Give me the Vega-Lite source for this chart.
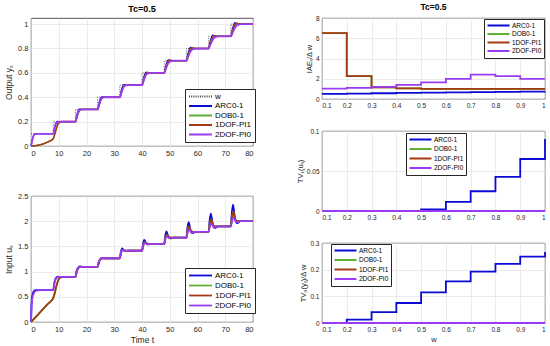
{
  "$schema": "https://vega.github.io/schema/vega-lite/v6.json",
  "padding": {"left": 4, "top": 2, "right": 4, "bottom": 2},
  "spacing": 38,
  "config": {
    "font": "Liberation Sans",
    "view": {"stroke": "#262626", "strokeWidth": 0.8},
    "axis": {"labelColor": "#262626", "titleColor": "#262626", "titleFontWeight": "normal", "gridColor": "#e3e3e3", "gridWidth": 0.7, "domain": false, "ticks": false, "labelPadding": 3, "format": "~f"},
    "title": {"fontWeight": "bold", "color": "#000000", "offset": 4},
    "line": {"strokeCap": "butt"}
  },
  "datasets": {
    "ys": [
      {"s":"w","t":0,"v":0.1},{"s":"w","t":8,"v":0.2},{"s":"w","t":16,"v":0.3},{"s":"w","t":24,"v":0.4},{"s":"w","t":32,"v":0.5},{"s":"w","t":40,"v":0.6},{"s":"w","t":48,"v":0.7},{"s":"w","t":56,"v":0.8},{"s":"w","t":64,"v":0.9},{"s":"w","t":72,"v":1.0},{"s":"w","t":80,"v":1.0},

      {"s":"ARC0-1","t":0,"v":0},{"s":"ARC0-1","t":0.4,"v":0.045},{"s":"ARC0-1","t":0.9,"v":0.085},{"s":"ARC0-1","t":1.5,"v":0.1},{"s":"ARC0-1","t":2.6,"v":0.1},
      {"s":"ARC0-1","t":8,"v":0.1},{"s":"ARC0-1","t":8.4,"v":0.145},{"s":"ARC0-1","t":8.9,"v":0.185},{"s":"ARC0-1","t":9.5,"v":0.202},{"s":"ARC0-1","t":10.6,"v":0.2},
      {"s":"ARC0-1","t":16,"v":0.2},{"s":"ARC0-1","t":16.4,"v":0.245},{"s":"ARC0-1","t":16.9,"v":0.285},{"s":"ARC0-1","t":17.5,"v":0.303},{"s":"ARC0-1","t":18.6,"v":0.3},
      {"s":"ARC0-1","t":24,"v":0.3},{"s":"ARC0-1","t":24.4,"v":0.345},{"s":"ARC0-1","t":24.9,"v":0.385},{"s":"ARC0-1","t":25.5,"v":0.404},{"s":"ARC0-1","t":26.6,"v":0.4},
      {"s":"ARC0-1","t":32,"v":0.4},{"s":"ARC0-1","t":32.4,"v":0.445},{"s":"ARC0-1","t":32.9,"v":0.485},{"s":"ARC0-1","t":33.5,"v":0.505},{"s":"ARC0-1","t":34.6,"v":0.5},
      {"s":"ARC0-1","t":40,"v":0.5},{"s":"ARC0-1","t":40.4,"v":0.545},{"s":"ARC0-1","t":40.9,"v":0.585},{"s":"ARC0-1","t":41.5,"v":0.606},{"s":"ARC0-1","t":42.6,"v":0.6},
      {"s":"ARC0-1","t":48,"v":0.6},{"s":"ARC0-1","t":48.4,"v":0.645},{"s":"ARC0-1","t":48.9,"v":0.685},{"s":"ARC0-1","t":49.5,"v":0.708},{"s":"ARC0-1","t":50.6,"v":0.7},
      {"s":"ARC0-1","t":56,"v":0.7},{"s":"ARC0-1","t":56.4,"v":0.745},{"s":"ARC0-1","t":56.9,"v":0.785},{"s":"ARC0-1","t":57.5,"v":0.809},{"s":"ARC0-1","t":58.6,"v":0.8},
      {"s":"ARC0-1","t":64,"v":0.8},{"s":"ARC0-1","t":64.4,"v":0.845},{"s":"ARC0-1","t":64.9,"v":0.885},{"s":"ARC0-1","t":65.5,"v":0.91},{"s":"ARC0-1","t":66.6,"v":0.9},
      {"s":"ARC0-1","t":72,"v":0.9},{"s":"ARC0-1","t":72.4,"v":0.945},{"s":"ARC0-1","t":72.9,"v":0.985},{"s":"ARC0-1","t":73.5,"v":1.012},{"s":"ARC0-1","t":74.6,"v":1.0},
      {"s":"ARC0-1","t":80,"v":1.0},

      {"s":"DOB0-1","t":0,"v":0},{"s":"DOB0-1","t":2,"v":0.004},{"s":"DOB0-1","t":4,"v":0.015},{"s":"DOB0-1","t":6,"v":0.033},{"s":"DOB0-1","t":8,"v":0.06},{"s":"DOB0-1","t":8.6,"v":0.1},{"s":"DOB0-1","t":9.3,"v":0.155},{"s":"DOB0-1","t":10,"v":0.19},{"s":"DOB0-1","t":11,"v":0.2},
      {"s":"DOB0-1","t":16,"v":0.2},{"s":"DOB0-1","t":16.6,"v":0.24},{"s":"DOB0-1","t":17.3,"v":0.285},{"s":"DOB0-1","t":18.2,"v":0.3},
      {"s":"DOB0-1","t":24,"v":0.3},{"s":"DOB0-1","t":24.6,"v":0.34},{"s":"DOB0-1","t":25.3,"v":0.385},{"s":"DOB0-1","t":26.2,"v":0.4},
      {"s":"DOB0-1","t":32,"v":0.4},{"s":"DOB0-1","t":32.6,"v":0.44},{"s":"DOB0-1","t":33.3,"v":0.485},{"s":"DOB0-1","t":34.2,"v":0.5},
      {"s":"DOB0-1","t":40,"v":0.5},{"s":"DOB0-1","t":40.6,"v":0.54},{"s":"DOB0-1","t":41.3,"v":0.585},{"s":"DOB0-1","t":42.2,"v":0.602},{"s":"DOB0-1","t":43.2,"v":0.6},
      {"s":"DOB0-1","t":48,"v":0.6},{"s":"DOB0-1","t":48.6,"v":0.64},{"s":"DOB0-1","t":49.3,"v":0.685},{"s":"DOB0-1","t":50.2,"v":0.703},{"s":"DOB0-1","t":51.2,"v":0.7},
      {"s":"DOB0-1","t":56,"v":0.7},{"s":"DOB0-1","t":56.6,"v":0.74},{"s":"DOB0-1","t":57.3,"v":0.785},{"s":"DOB0-1","t":58.2,"v":0.804},{"s":"DOB0-1","t":59.2,"v":0.8},
      {"s":"DOB0-1","t":64,"v":0.8},{"s":"DOB0-1","t":64.6,"v":0.84},{"s":"DOB0-1","t":65.3,"v":0.885},{"s":"DOB0-1","t":66.2,"v":0.905},{"s":"DOB0-1","t":67.2,"v":0.9},
      {"s":"DOB0-1","t":72,"v":0.9},{"s":"DOB0-1","t":72.6,"v":0.94},{"s":"DOB0-1","t":73.3,"v":0.985},{"s":"DOB0-1","t":74.2,"v":1.006},{"s":"DOB0-1","t":75.2,"v":1.0},
      {"s":"DOB0-1","t":80,"v":1.0},

      {"s":"1DOF-PI1","t":0,"v":0},{"s":"1DOF-PI1","t":2,"v":0.004},{"s":"1DOF-PI1","t":4,"v":0.015},{"s":"1DOF-PI1","t":6,"v":0.033},{"s":"1DOF-PI1","t":8,"v":0.06},{"s":"1DOF-PI1","t":8.6,"v":0.1},{"s":"1DOF-PI1","t":9.3,"v":0.155},{"s":"1DOF-PI1","t":10,"v":0.19},{"s":"1DOF-PI1","t":11,"v":0.2},
      {"s":"1DOF-PI1","t":16,"v":0.2},{"s":"1DOF-PI1","t":16.6,"v":0.24},{"s":"1DOF-PI1","t":17.3,"v":0.285},{"s":"1DOF-PI1","t":18.2,"v":0.3},
      {"s":"1DOF-PI1","t":24,"v":0.3},{"s":"1DOF-PI1","t":24.6,"v":0.34},{"s":"1DOF-PI1","t":25.3,"v":0.385},{"s":"1DOF-PI1","t":26.2,"v":0.4},
      {"s":"1DOF-PI1","t":32,"v":0.4},{"s":"1DOF-PI1","t":32.6,"v":0.44},{"s":"1DOF-PI1","t":33.3,"v":0.485},{"s":"1DOF-PI1","t":34.2,"v":0.5},
      {"s":"1DOF-PI1","t":40,"v":0.5},{"s":"1DOF-PI1","t":40.6,"v":0.54},{"s":"1DOF-PI1","t":41.3,"v":0.585},{"s":"1DOF-PI1","t":42.2,"v":0.602},{"s":"1DOF-PI1","t":43.2,"v":0.6},
      {"s":"1DOF-PI1","t":48,"v":0.6},{"s":"1DOF-PI1","t":48.6,"v":0.64},{"s":"1DOF-PI1","t":49.3,"v":0.685},{"s":"1DOF-PI1","t":50.2,"v":0.703},{"s":"1DOF-PI1","t":51.2,"v":0.7},
      {"s":"1DOF-PI1","t":56,"v":0.7},{"s":"1DOF-PI1","t":56.6,"v":0.74},{"s":"1DOF-PI1","t":57.3,"v":0.785},{"s":"1DOF-PI1","t":58.2,"v":0.804},{"s":"1DOF-PI1","t":59.2,"v":0.8},
      {"s":"1DOF-PI1","t":64,"v":0.8},{"s":"1DOF-PI1","t":64.6,"v":0.84},{"s":"1DOF-PI1","t":65.3,"v":0.885},{"s":"1DOF-PI1","t":66.2,"v":0.905},{"s":"1DOF-PI1","t":67.2,"v":0.9},
      {"s":"1DOF-PI1","t":72,"v":0.9},{"s":"1DOF-PI1","t":72.6,"v":0.94},{"s":"1DOF-PI1","t":73.3,"v":0.985},{"s":"1DOF-PI1","t":74.2,"v":1.006},{"s":"1DOF-PI1","t":75.2,"v":1.0},
      {"s":"1DOF-PI1","t":80,"v":1.0},

      {"s":"2DOF-PI0","t":0,"v":0},{"s":"2DOF-PI0","t":0.36,"v":0.035},{"s":"2DOF-PI0","t":0.72,"v":0.07},{"s":"2DOF-PI0","t":1.2,"v":0.093},{"s":"2DOF-PI0","t":2.04,"v":0.1},
      {"s":"2DOF-PI0","t":8,"v":0.1},{"s":"2DOF-PI0","t":8.41,"v":0.135},{"s":"2DOF-PI0","t":8.81,"v":0.17},{"s":"2DOF-PI0","t":9.35,"v":0.193},{"s":"2DOF-PI0","t":10.3,"v":0.2},
      {"s":"2DOF-PI0","t":16,"v":0.2},{"s":"2DOF-PI0","t":16.45,"v":0.235},{"s":"2DOF-PI0","t":16.9,"v":0.27},{"s":"2DOF-PI0","t":17.5,"v":0.293},{"s":"2DOF-PI0","t":18.55,"v":0.3},
      {"s":"2DOF-PI0","t":24,"v":0.3},{"s":"2DOF-PI0","t":24.5,"v":0.335},{"s":"2DOF-PI0","t":24.99,"v":0.37},{"s":"2DOF-PI0","t":25.65,"v":0.393},{"s":"2DOF-PI0","t":26.81,"v":0.4},
      {"s":"2DOF-PI0","t":32,"v":0.4},{"s":"2DOF-PI0","t":32.54,"v":0.435},{"s":"2DOF-PI0","t":33.08,"v":0.47},{"s":"2DOF-PI0","t":33.8,"v":0.493},{"s":"2DOF-PI0","t":35.06,"v":0.5},
      {"s":"2DOF-PI0","t":40,"v":0.5},{"s":"2DOF-PI0","t":40.59,"v":0.535},{"s":"2DOF-PI0","t":41.17,"v":0.57},{"s":"2DOF-PI0","t":41.95,"v":0.593},{"s":"2DOF-PI0","t":43.32,"v":0.6},
      {"s":"2DOF-PI0","t":48,"v":0.6},{"s":"2DOF-PI0","t":48.63,"v":0.635},{"s":"2DOF-PI0","t":49.26,"v":0.67},{"s":"2DOF-PI0","t":50.1,"v":0.693},{"s":"2DOF-PI0","t":51.57,"v":0.7},
      {"s":"2DOF-PI0","t":56,"v":0.7},{"s":"2DOF-PI0","t":56.68,"v":0.735},{"s":"2DOF-PI0","t":57.35,"v":0.77},{"s":"2DOF-PI0","t":58.25,"v":0.793},{"s":"2DOF-PI0","t":59.83,"v":0.8},
      {"s":"2DOF-PI0","t":64,"v":0.8},{"s":"2DOF-PI0","t":64.72,"v":0.835},{"s":"2DOF-PI0","t":65.44,"v":0.87},{"s":"2DOF-PI0","t":66.4,"v":0.893},{"s":"2DOF-PI0","t":68.08,"v":0.9},
      {"s":"2DOF-PI0","t":72,"v":0.9},{"s":"2DOF-PI0","t":72.77,"v":0.935},{"s":"2DOF-PI0","t":73.53,"v":0.97},{"s":"2DOF-PI0","t":74.55,"v":0.993},{"s":"2DOF-PI0","t":76.34,"v":1.0},
      {"s":"2DOF-PI0","t":80,"v":1.0}
    ],
    "us": [
      {"s":"ARC0-1","t":0,"v":0},{"s":"ARC0-1","t":0.15,"v":0.3},{"s":"ARC0-1","t":0.4,"v":0.5},{"s":"ARC0-1","t":0.9,"v":0.6},{"s":"ARC0-1","t":1.6,"v":0.63},{"s":"ARC0-1","t":3,"v":0.632},
      {"s":"ARC0-1","t":8,"v":0.632},{"s":"ARC0-1","t":8.4,"v":0.776},{"s":"ARC0-1","t":8.9,"v":0.863},{"s":"ARC0-1","t":9.6,"v":0.899},{"s":"ARC0-1","t":11,"v":0.894},
      {"s":"ARC0-1","t":16,"v":0.894},{"s":"ARC0-1","t":16.4,"v":1.005},{"s":"ARC0-1","t":16.9,"v":1.071},{"s":"ARC0-1","t":17.6,"v":1.102},{"s":"ARC0-1","t":19,"v":1.095},
      {"s":"ARC0-1","t":24,"v":1.095},{"s":"ARC0-1","t":24.4,"v":1.189},{"s":"ARC0-1","t":24.9,"v":1.245},{"s":"ARC0-1","t":25.6,"v":1.273},{"s":"ARC0-1","t":27,"v":1.265},
      {"s":"ARC0-1","t":32,"v":1.265},{"s":"ARC0-1","t":32.35,"v":1.383},{"s":"ARC0-1","t":32.8,"v":1.46},{"s":"ARC0-1","t":33.4,"v":1.428},{"s":"ARC0-1","t":34.2,"v":1.409},{"s":"ARC0-1","t":35.5,"v":1.414},
      {"s":"ARC0-1","t":40,"v":1.414},{"s":"ARC0-1","t":40.35,"v":1.544},{"s":"ARC0-1","t":40.8,"v":1.63},{"s":"ARC0-1","t":41.4,"v":1.573},{"s":"ARC0-1","t":42.2,"v":1.539},{"s":"ARC0-1","t":43.5,"v":1.549},
      {"s":"ARC0-1","t":48,"v":1.549},{"s":"ARC0-1","t":48.35,"v":1.699},{"s":"ARC0-1","t":48.8,"v":1.8},{"s":"ARC0-1","t":49.4,"v":1.711},{"s":"ARC0-1","t":50.2,"v":1.658},{"s":"ARC0-1","t":51.5,"v":1.673},
      {"s":"ARC0-1","t":56,"v":1.673},{"s":"ARC0-1","t":56.35,"v":1.856},{"s":"ARC0-1","t":56.8,"v":1.98},{"s":"ARC0-1","t":57.4,"v":1.846},{"s":"ARC0-1","t":58.2,"v":1.764},{"s":"ARC0-1","t":59.5,"v":1.789},
      {"s":"ARC0-1","t":64,"v":1.789},{"s":"ARC0-1","t":64.35,"v":2.006},{"s":"ARC0-1","t":64.8,"v":2.15},{"s":"ARC0-1","t":65.4,"v":1.973},{"s":"ARC0-1","t":66.2,"v":1.867},{"s":"ARC0-1","t":67.5,"v":1.897},
      {"s":"ARC0-1","t":72,"v":1.897},{"s":"ARC0-1","t":72.35,"v":2.157},{"s":"ARC0-1","t":72.8,"v":2.33},{"s":"ARC0-1","t":73.4,"v":2.099},{"s":"ARC0-1","t":74.2,"v":1.96},{"s":"ARC0-1","t":75.5,"v":2.0},
      {"s":"ARC0-1","t":80,"v":2.0},

      {"s":"DOB0-1","t":0,"v":0},{"s":"DOB0-1","t":2,"v":0.115},{"s":"DOB0-1","t":4,"v":0.235},{"s":"DOB0-1","t":6,"v":0.355},{"s":"DOB0-1","t":8,"v":0.475},{"s":"DOB0-1","t":8.5,"v":0.56},{"s":"DOB0-1","t":9,"v":0.68},{"s":"DOB0-1","t":9.5,"v":0.78},{"s":"DOB0-1","t":10,"v":0.85},{"s":"DOB0-1","t":10.7,"v":0.885},{"s":"DOB0-1","t":12,"v":0.894},
      {"s":"DOB0-1","t":16,"v":0.894},{"s":"DOB0-1","t":16.5,"v":1.0},{"s":"DOB0-1","t":17,"v":1.065},{"s":"DOB0-1","t":17.7,"v":1.095},
      {"s":"DOB0-1","t":24,"v":1.095},{"s":"DOB0-1","t":24.5,"v":1.19},{"s":"DOB0-1","t":25,"v":1.245},{"s":"DOB0-1","t":25.7,"v":1.265},
      {"s":"DOB0-1","t":32,"v":1.265},{"s":"DOB0-1","t":32.45,"v":1.37},{"s":"DOB0-1","t":32.9,"v":1.43},{"s":"DOB0-1","t":33.6,"v":1.42},{"s":"DOB0-1","t":34.5,"v":1.414},
      {"s":"DOB0-1","t":40,"v":1.414},{"s":"DOB0-1","t":40.45,"v":1.52},{"s":"DOB0-1","t":40.9,"v":1.58},{"s":"DOB0-1","t":41.6,"v":1.56},{"s":"DOB0-1","t":42.5,"v":1.549},
      {"s":"DOB0-1","t":48,"v":1.549},{"s":"DOB0-1","t":48.45,"v":1.67},{"s":"DOB0-1","t":48.9,"v":1.73},{"s":"DOB0-1","t":49.6,"v":1.69},{"s":"DOB0-1","t":50.5,"v":1.673},
      {"s":"DOB0-1","t":56,"v":1.673},{"s":"DOB0-1","t":56.45,"v":1.81},{"s":"DOB0-1","t":56.9,"v":1.89},{"s":"DOB0-1","t":57.6,"v":1.81},{"s":"DOB0-1","t":58.5,"v":1.789},
      {"s":"DOB0-1","t":64,"v":1.789},{"s":"DOB0-1","t":64.45,"v":1.95},{"s":"DOB0-1","t":64.9,"v":2.03},{"s":"DOB0-1","t":65.6,"v":1.92},{"s":"DOB0-1","t":66.5,"v":1.897},
      {"s":"DOB0-1","t":72,"v":1.897},{"s":"DOB0-1","t":72.45,"v":2.09},{"s":"DOB0-1","t":72.9,"v":2.19},{"s":"DOB0-1","t":73.6,"v":2.03},{"s":"DOB0-1","t":74.5,"v":2.0},
      {"s":"DOB0-1","t":80,"v":2.0},

      {"s":"1DOF-PI1","t":0,"v":0},{"s":"1DOF-PI1","t":2,"v":0.115},{"s":"1DOF-PI1","t":4,"v":0.235},{"s":"1DOF-PI1","t":6,"v":0.355},{"s":"1DOF-PI1","t":8,"v":0.475},{"s":"1DOF-PI1","t":8.5,"v":0.56},{"s":"1DOF-PI1","t":9,"v":0.68},{"s":"1DOF-PI1","t":9.5,"v":0.78},{"s":"1DOF-PI1","t":10,"v":0.85},{"s":"1DOF-PI1","t":10.7,"v":0.885},{"s":"1DOF-PI1","t":12,"v":0.894},
      {"s":"1DOF-PI1","t":16,"v":0.894},{"s":"1DOF-PI1","t":16.5,"v":1.0},{"s":"1DOF-PI1","t":17,"v":1.065},{"s":"1DOF-PI1","t":17.7,"v":1.095},
      {"s":"1DOF-PI1","t":24,"v":1.095},{"s":"1DOF-PI1","t":24.5,"v":1.19},{"s":"1DOF-PI1","t":25,"v":1.245},{"s":"1DOF-PI1","t":25.7,"v":1.265},
      {"s":"1DOF-PI1","t":32,"v":1.265},{"s":"1DOF-PI1","t":32.45,"v":1.37},{"s":"1DOF-PI1","t":32.9,"v":1.43},{"s":"1DOF-PI1","t":33.6,"v":1.42},{"s":"1DOF-PI1","t":34.5,"v":1.414},
      {"s":"1DOF-PI1","t":40,"v":1.414},{"s":"1DOF-PI1","t":40.45,"v":1.52},{"s":"1DOF-PI1","t":40.9,"v":1.58},{"s":"1DOF-PI1","t":41.6,"v":1.56},{"s":"1DOF-PI1","t":42.5,"v":1.549},
      {"s":"1DOF-PI1","t":48,"v":1.549},{"s":"1DOF-PI1","t":48.45,"v":1.67},{"s":"1DOF-PI1","t":48.9,"v":1.73},{"s":"1DOF-PI1","t":49.6,"v":1.69},{"s":"1DOF-PI1","t":50.5,"v":1.673},
      {"s":"1DOF-PI1","t":56,"v":1.673},{"s":"1DOF-PI1","t":56.45,"v":1.81},{"s":"1DOF-PI1","t":56.9,"v":1.89},{"s":"1DOF-PI1","t":57.6,"v":1.81},{"s":"1DOF-PI1","t":58.5,"v":1.789},
      {"s":"1DOF-PI1","t":64,"v":1.789},{"s":"1DOF-PI1","t":64.45,"v":1.95},{"s":"1DOF-PI1","t":64.9,"v":2.03},{"s":"1DOF-PI1","t":65.6,"v":1.92},{"s":"1DOF-PI1","t":66.5,"v":1.897},
      {"s":"1DOF-PI1","t":72,"v":1.897},{"s":"1DOF-PI1","t":72.45,"v":2.09},{"s":"1DOF-PI1","t":72.9,"v":2.19},{"s":"1DOF-PI1","t":73.6,"v":2.03},{"s":"1DOF-PI1","t":74.5,"v":2.0},
      {"s":"1DOF-PI1","t":80,"v":2.0},

      {"s":"2DOF-PI0","t":0,"v":0},{"s":"2DOF-PI0","t":0.2,"v":0.3},{"s":"2DOF-PI0","t":0.5,"v":0.48},{"s":"2DOF-PI0","t":1,"v":0.57},{"s":"2DOF-PI0","t":1.8,"v":0.62},{"s":"2DOF-PI0","t":3.5,"v":0.632},
      {"s":"2DOF-PI0","t":8,"v":0.632},{"s":"2DOF-PI0","t":8.5,"v":0.78},{"s":"2DOF-PI0","t":9.1,"v":0.87},{"s":"2DOF-PI0","t":10,"v":0.894},
      {"s":"2DOF-PI0","t":16,"v":0.894},{"s":"2DOF-PI0","t":16.5,"v":1.01},{"s":"2DOF-PI0","t":17.1,"v":1.075},{"s":"2DOF-PI0","t":18,"v":1.095},
      {"s":"2DOF-PI0","t":24,"v":1.095},{"s":"2DOF-PI0","t":24.5,"v":1.195},{"s":"2DOF-PI0","t":25.1,"v":1.25},{"s":"2DOF-PI0","t":26,"v":1.265},
      {"s":"2DOF-PI0","t":32,"v":1.265},{"s":"2DOF-PI0","t":32.5,"v":1.39},{"s":"2DOF-PI0","t":33,"v":1.43},{"s":"2DOF-PI0","t":33.7,"v":1.41},{"s":"2DOF-PI0","t":35,"v":1.414},
      {"s":"2DOF-PI0","t":40,"v":1.414},{"s":"2DOF-PI0","t":40.5,"v":1.53},{"s":"2DOF-PI0","t":41,"v":1.57},{"s":"2DOF-PI0","t":41.8,"v":1.54},{"s":"2DOF-PI0","t":43,"v":1.549},
      {"s":"2DOF-PI0","t":48,"v":1.549},{"s":"2DOF-PI0","t":48.5,"v":1.66},{"s":"2DOF-PI0","t":49,"v":1.7},{"s":"2DOF-PI0","t":49.8,"v":1.66},{"s":"2DOF-PI0","t":51,"v":1.673},
      {"s":"2DOF-PI0","t":56,"v":1.673},{"s":"2DOF-PI0","t":56.5,"v":1.79},{"s":"2DOF-PI0","t":57,"v":1.83},{"s":"2DOF-PI0","t":57.8,"v":1.77},{"s":"2DOF-PI0","t":59,"v":1.789},
      {"s":"2DOF-PI0","t":64,"v":1.789},{"s":"2DOF-PI0","t":64.5,"v":1.91},{"s":"2DOF-PI0","t":65,"v":1.95},{"s":"2DOF-PI0","t":65.9,"v":1.875},{"s":"2DOF-PI0","t":67.5,"v":1.897},
      {"s":"2DOF-PI0","t":72,"v":1.897},{"s":"2DOF-PI0","t":72.5,"v":2.02},{"s":"2DOF-PI0","t":73,"v":2.07},{"s":"2DOF-PI0","t":74,"v":1.975},{"s":"2DOF-PI0","t":75.5,"v":2.0},
      {"s":"2DOF-PI0","t":80,"v":2.0}
    ],
    "iae": [
      {"s":"ARC0-1","w":0.1,"v":0.5},{"s":"ARC0-1","w":0.2,"v":0.54},{"s":"ARC0-1","w":0.3,"v":0.57},{"s":"ARC0-1","w":0.4,"v":0.6},{"s":"ARC0-1","w":0.5,"v":0.63},{"s":"ARC0-1","w":0.6,"v":0.66},{"s":"ARC0-1","w":0.7,"v":0.68},{"s":"ARC0-1","w":0.8,"v":0.7},{"s":"ARC0-1","w":0.9,"v":0.72},{"s":"ARC0-1","w":1.0,"v":0.73},
      {"s":"DOB0-1","w":0.1,"v":6.5},{"s":"DOB0-1","w":0.2,"v":2.25},{"s":"DOB0-1","w":0.3,"v":1.15},{"s":"DOB0-1","w":0.4,"v":1.04},{"s":"DOB0-1","w":0.5,"v":1.0},{"s":"DOB0-1","w":0.6,"v":1.0},{"s":"DOB0-1","w":0.7,"v":1.0},{"s":"DOB0-1","w":0.8,"v":1.0},{"s":"DOB0-1","w":0.9,"v":1.0},{"s":"DOB0-1","w":1.0,"v":1.0},
      {"s":"1DOF-PI1","w":0.1,"v":6.5},{"s":"1DOF-PI1","w":0.2,"v":2.25},{"s":"1DOF-PI1","w":0.3,"v":1.15},{"s":"1DOF-PI1","w":0.4,"v":1.04},{"s":"1DOF-PI1","w":0.5,"v":1.0},{"s":"1DOF-PI1","w":0.6,"v":1.0},{"s":"1DOF-PI1","w":0.7,"v":1.0},{"s":"1DOF-PI1","w":0.8,"v":1.0},{"s":"1DOF-PI1","w":0.9,"v":1.0},{"s":"1DOF-PI1","w":1.0,"v":1.0},
      {"s":"2DOF-PI0","w":0.1,"v":1.02},{"s":"2DOF-PI0","w":0.2,"v":1.09},{"s":"2DOF-PI0","w":0.3,"v":1.19},{"s":"2DOF-PI0","w":0.4,"v":1.39},{"s":"2DOF-PI0","w":0.5,"v":1.65},{"s":"2DOF-PI0","w":0.6,"v":1.98},{"s":"2DOF-PI0","w":0.7,"v":2.41},{"s":"2DOF-PI0","w":0.8,"v":2.25},{"s":"2DOF-PI0","w":0.9,"v":1.98},{"s":"2DOF-PI0","w":1.0,"v":1.98}
    ],
    "tv1": [
      {"s":"ARC0-1","w":0.1,"v":0},{"s":"ARC0-1","w":0.2,"v":0},{"s":"ARC0-1","w":0.3,"v":0},{"s":"ARC0-1","w":0.4,"v":0},{"s":"ARC0-1","w":0.5,"v":0.002},{"s":"ARC0-1","w":0.6,"v":0.0113},{"s":"ARC0-1","w":0.7,"v":0.0247},{"s":"ARC0-1","w":0.8,"v":0.0427},{"s":"ARC0-1","w":0.9,"v":0.065},{"s":"ARC0-1","w":1.0,"v":0.09},
      {"s":"DOB0-1","w":0.1,"v":0},{"s":"DOB0-1","w":1.0,"v":0},
      {"s":"1DOF-PI1","w":0.1,"v":0},{"s":"1DOF-PI1","w":1.0,"v":0},
      {"s":"2DOF-PI0","w":0.1,"v":0},{"s":"2DOF-PI0","w":1.0,"v":0}
    ],
    "tv0": [
      {"s":"ARC0-1","w":0.1,"v":0},{"s":"ARC0-1","w":0.2,"v":0.0126},{"s":"ARC0-1","w":0.3,"v":0.041},{"s":"ARC0-1","w":0.4,"v":0.075},{"s":"ARC0-1","w":0.5,"v":0.115},{"s":"ARC0-1","w":0.6,"v":0.156},{"s":"ARC0-1","w":0.7,"v":0.193},{"s":"ARC0-1","w":0.8,"v":0.222},{"s":"ARC0-1","w":0.9,"v":0.249},{"s":"ARC0-1","w":1.0,"v":0.266},
      {"s":"DOB0-1","w":0.1,"v":0},{"s":"DOB0-1","w":1.0,"v":0},
      {"s":"1DOF-PI1","w":0.1,"v":0},{"s":"1DOF-PI1","w":1.0,"v":0},
      {"s":"2DOF-PI0","w":0.1,"v":0},{"s":"2DOF-PI0","w":1.0,"v":0}
    ]
  },
  "resolve": {"scale": {"color": "independent", "strokeDash": "independent", "strokeWidth": "independent"}, "legend": {"color": "independent"}},
  "hconcat": [
    {
      "vconcat": [
        {
          "width": 222, "height": 128,
          "title": {"text": "Tc=0.5", "fontSize": 9},
          "data": {"name": "ys"},
          "encoding": {
            "x": {"field": "t", "type": "quantitative", "scale": {"domain": [0, 80], "nice": false}, "axis": {"values": [0,10,20,30,40,50,60,70,80], "title": null, "labelFontSize": 7.5}},
            "y": {"field": "v", "type": "quantitative", "scale": {"domain": [0, 1.05], "nice": false}, "axis": {"values": [0,0.2,0.4,0.6,0.8,1], "title": "Output yₛ", "labelFontSize": 7.5, "titleFontSize": 8.5, "titlePadding": 4}},
            "color": {"field": "s", "type": "nominal", "scale": {"domain": ["w","ARC0-1","DOB0-1","1DOF-PI1","2DOF-PI0"], "range": ["#444444","#0b0bd6","#5fb035","#a33a12","#9b3cf2"]},
              "legend": {"title": null, "orient": "none", "legendX": 154, "legendY": 71, "symbolType": "stroke", "symbolSize": 529, "symbolStrokeWidth": 1.8, "clipHeight": 9, "rowPadding": 0.5, "labelFontSize": 8, "labelOffset": 2, "padding": 3, "strokeColor": "#262626", "fillColor": "white", "labelColor": "#000000",
                "encode": {"symbols": {"update": {"strokeDash": {"signal": "datum.value === 'w' ? [1,1.2] : [1,0]"}}}}}},
            "strokeDash": {"field": "s", "type": "nominal", "scale": {"domain": ["w","ARC0-1","DOB0-1","1DOF-PI1","2DOF-PI0"], "range": [[1,1.5],[1,0],[1,0],[1,0],[1,0]]}, "legend": null},
            "strokeWidth": {"field": "s", "type": "nominal", "scale": {"domain": ["w","ARC0-1","DOB0-1","1DOF-PI1","2DOF-PI0"], "range": [0.9,1.8,1.8,1.8,1.8]}, "legend": null}
          },
          "layer": [
            {"transform": [{"filter": "datum.s === 'w'"}], "mark": {"type": "line", "interpolate": "step-after"}},
            {"transform": [{"filter": "datum.s !== 'w'"}], "mark": {"type": "line", "interpolate": "monotone"}}
          ]
        },
        {
          "width": 222, "height": 126,
          "data": {"name": "us"},
          "mark": {"type": "line", "interpolate": "monotone", "strokeWidth": 1.8},
          "encoding": {
            "x": {"field": "t", "type": "quantitative", "scale": {"domain": [0, 80], "nice": false}, "axis": {"values": [0,10,20,30,40,50,60,70,80], "title": "Time t", "labelFontSize": 7.5, "titleFontSize": 8.5, "titlePadding": 3}},
            "y": {"field": "v", "type": "quantitative", "scale": {"domain": [0, 2.5], "nice": false}, "axis": {"values": [0,0.5,1,1.5,2,2.5], "title": "Input uₛ", "labelFontSize": 7.5, "titleFontSize": 8.5, "titlePadding": 4}},
            "color": {"field": "s", "type": "nominal", "scale": {"domain": ["ARC0-1","DOB0-1","1DOF-PI1","2DOF-PI0"], "range": ["#0b0bd6","#5fb035","#a33a12","#9b3cf2"]},
              "legend": {"title": null, "orient": "none", "legendX": 154, "legendY": 72, "symbolType": "stroke", "symbolSize": 529, "symbolStrokeWidth": 1.8, "clipHeight": 9, "rowPadding": 1, "labelFontSize": 8, "labelOffset": 2, "padding": 3, "strokeColor": "#262626", "fillColor": "white", "labelColor": "#000000"}}
          }
        }
      ],
      "spacing": 50,
      "bounds": "flush",
      "resolve": {"scale": {"color": "independent"}, "legend": {"color": "independent"}}
    },
    {
      "vconcat": [
        {
          "width": 223, "height": 81,
          "title": {"text": "Tc=0.5", "fontSize": 8.5},
          "data": {"name": "iae"},
          "mark": {"type": "line", "interpolate": "step-after", "strokeWidth": 1.8},
          "encoding": {
            "x": {"field": "w", "type": "quantitative", "scale": {"domain": [0.1, 1], "nice": false}, "axis": {"values": [0.1,0.2,0.3,0.4,0.5,0.6,0.7,0.8,0.9,1], "title": null, "labelFontSize": 6.5}},
            "y": {"field": "v", "type": "quantitative", "scale": {"domain": [0, 8], "nice": false}, "axis": {"values": [0,2,4,6,8], "title": "IAEₛ/Δ w", "labelFontSize": 6.5, "titleFontSize": 7.5, "titlePadding": 2}},
            "color": {"field": "s", "type": "nominal", "scale": {"domain": ["ARC0-1","DOB0-1","1DOF-PI1","2DOF-PI0"], "range": ["#0b0bd6","#5fb035","#a33a12","#9b3cf2"]},
              "legend": {"title": null, "orient": "top-right", "offset": 1, "symbolType": "stroke", "symbolSize": 484, "symbolStrokeWidth": 1.8, "clipHeight": 8, "rowPadding": 0.5, "labelFontSize": 6.5, "labelOffset": 1.5, "padding": 2.5, "strokeColor": "#262626", "fillColor": "white", "labelColor": "#000000"}}
          }
        },
        {
          "width": 223, "height": 80,
          "data": {"name": "tv1"},
          "mark": {"type": "line", "interpolate": "step-after", "strokeWidth": 1.8},
          "encoding": {
            "x": {"field": "w", "type": "quantitative", "scale": {"domain": [0.1, 1], "nice": false}, "axis": {"values": [0.1,0.2,0.3,0.4,0.5,0.6,0.7,0.8,0.9,1], "title": null, "labelFontSize": 6.5}},
            "y": {"field": "v", "type": "quantitative", "scale": {"domain": [0, 0.1], "nice": false}, "axis": {"values": [0,0.05,0.1], "title": "TV₁(uₛ)", "labelFontSize": 6.5, "titleFontSize": 7.5, "titlePadding": 2}},
            "color": {"field": "s", "type": "nominal", "scale": {"domain": ["ARC0-1","DOB0-1","1DOF-PI1","2DOF-PI0"], "range": ["#0b0bd6","#5fb035","#a33a12","#9b3cf2"]},
              "legend": {"title": null, "orient": "none", "legendX": 84, "legendY": 2, "symbolType": "stroke", "symbolSize": 484, "symbolStrokeWidth": 1.8, "clipHeight": 8, "rowPadding": 1.5, "labelFontSize": 6.5, "labelOffset": 1.5, "padding": 2.5, "strokeColor": "#262626", "fillColor": "white", "labelColor": "#000000"}}
          }
        },
        {
          "width": 223, "height": 80,
          "data": {"name": "tv0"},
          "mark": {"type": "line", "interpolate": "step-after", "strokeWidth": 1.8},
          "encoding": {
            "x": {"field": "w", "type": "quantitative", "scale": {"domain": [0.1, 1], "nice": false}, "axis": {"values": [0.1,0.2,0.3,0.4,0.5,0.6,0.7,0.8,0.9,1], "title": "w", "labelFontSize": 6.5, "titleFontSize": 7.5, "titlePadding": 3}},
            "y": {"field": "v", "type": "quantitative", "scale": {"domain": [0, 0.3], "nice": false}, "axis": {"values": [0,0.1,0.2,0.3], "title": "TV₀(yₛ)/Δ w", "labelFontSize": 6.5, "titleFontSize": 7.5, "titlePadding": 2}},
            "color": {"field": "s", "type": "nominal", "scale": {"domain": ["ARC0-1","DOB0-1","1DOF-PI1","2DOF-PI0"], "range": ["#0b0bd6","#5fb035","#a33a12","#9b3cf2"]},
              "legend": {"title": null, "orient": "none", "legendX": 9, "legendY": 1, "symbolType": "stroke", "symbolSize": 484, "symbolStrokeWidth": 1.8, "clipHeight": 8, "rowPadding": 1.5, "labelFontSize": 6.5, "labelOffset": 1.5, "padding": 2.5, "strokeColor": "#262626", "fillColor": "white", "labelColor": "#000000"}}
          }
        }
      ],
      "spacing": 32,
      "bounds": "flush",
      "resolve": {"scale": {"color": "independent"}, "legend": {"color": "independent"}}
    }
  ]
}
